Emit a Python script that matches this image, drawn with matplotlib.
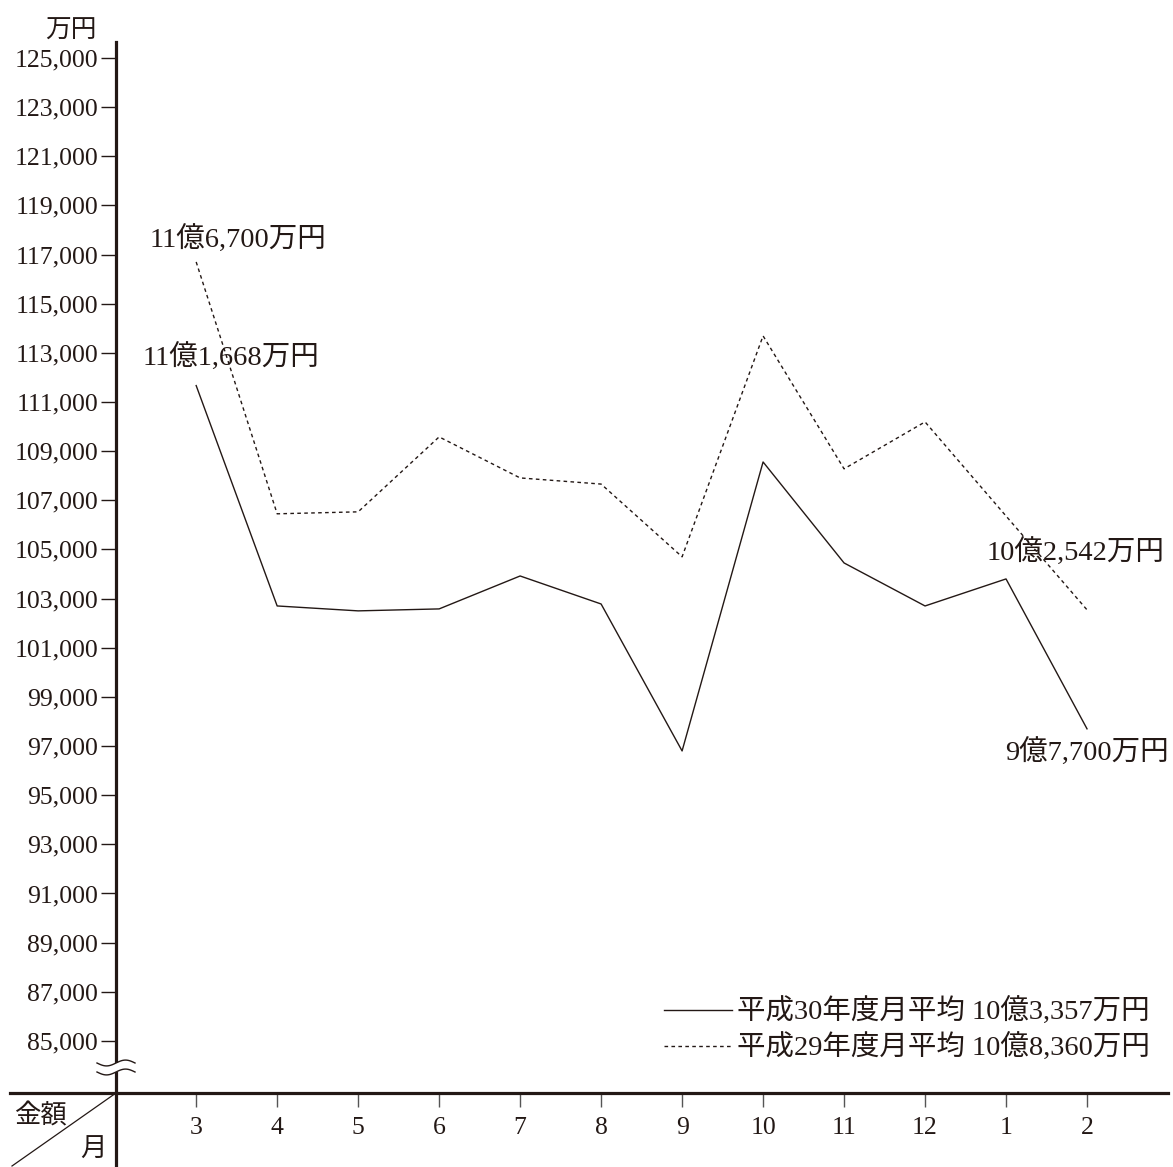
import numpy as np
import matplotlib
matplotlib.use("Agg")
import matplotlib.pyplot as plt
from matplotlib.lines import Line2D
from matplotlib.patches import Rectangle

plt.rcParams['font.family'] = ['Liberation Serif', 'Noto Sans CJK JP', 'DejaVu Sans']

# ---- data (万円) ----
months = ["3", "4", "5", "6", "7", "8", "9", "10", "11", "12", "1", "2"]
h30 = [111668, 102700, 102500, 102580, 103920, 102780,
       96800, 108560, 104450, 102700, 103800, 97700]
h29 = [116700, 106450, 106530, 109580, 107910, 107660,
       104700, 113690, 108280, 110190, 106360, 102542]
h30_label = "平成30年度月平均 10億3,357万円"
h29_label = "平成29年度月平均 10億8,360万円"
yticks = list(range(85000, 125001, 2000))

INK = "#231815"
W, H = 1173, 1167

fig = plt.figure(figsize=(W / 100, H / 100), dpi=100)


def fx(px):
    return px / W


def fy(py):
    return 1 - py / H


# axes box: y-axis at x=116, x-axis at y=1093, top at y=42
ax = fig.add_axes([fx(116), fy(1093), fx(1168) - fx(116), fy(42) - fy(1093)])
xs = np.arange(len(months))

ax.plot(xs, h30, color=INK, lw=1.0, label=h30_label)
ax.plot(xs, h29, color=INK, lw=1.0, linestyle=(0, (2.6, 2.4)), label=h29_label)

ax.set_xlim(-0.99, 12.0)
ax.set_ylim(82880, 125650)

for s in ax.spines.values():
    s.set_visible(False)

ax.set_yticks(yticks)
ax.set_yticklabels([f"{v:,}" for v in yticks])
ax.set_xticks(xs)
ax.set_xticklabels(months)
ax.tick_params(axis="y", direction="out", length=11, width=1.0, color=INK,
               labelsize=18.5, labelcolor=INK, pad=2)
ax.tick_params(axis="x", direction="out", length=10, width=1.0, color="#555555",
               labelsize=18.5, labelcolor=INK, pad=7)

# thick axis lines, extended past the corner
fig.add_artist(Line2D([fx(116), fx(116)], [fy(42), fy(1167)], color=INK, lw=2.3))
fig.add_artist(Line2D([fx(10), fx(1168)], [fy(1093), fy(1093)], color=INK, lw=2.3))
fig.add_artist(Line2D([fx(116), fx(12)], [fy(1093), fy(1166)], color=INK, lw=0.9))
fig.text(fx(40), fy(1116), "金額", fontsize=19, color=INK, ha="center", va="center")
fig.text(fx(93), fy(1150), "月", fontsize=19, color=INK, ha="center", va="center")

# axis break mark
fig.add_artist(Rectangle((fx(100), fy(1072)), fx(134) - fx(100), fy(1063) - fy(1072),
                         transform=fig.transFigure, facecolor="white",
                         edgecolor="none", zorder=5))
t = np.linspace(0, 1, 60)
wx = fx(97) + (fx(135) - fx(97)) * t
for base in (1063, 1072):
    wy = fy(base) + 0.0025 * np.sin(2 * np.pi * t + np.pi)
    fig.add_artist(Line2D(wx, wy, color=INK, lw=1.0, zorder=6))

# unit
fig.text(fx(97), fy(32), "万円", fontsize=18.5, color=INK, ha="right", va="center")

# value labels
ax.annotate("11億6,700万円", (xs[0], h29[0]), xytext=(30, 16),
            textcoords="offset points", ha="center", va="center",
            fontsize=20.5, color=INK)
ax.annotate("11億1,668万円", (xs[0], h30[0]), xytext=(25, 20),
            textcoords="offset points", ha="center", va="center",
            fontsize=20.5, color=INK)
ax.annotate("10億2,542万円", (xs[-1], h29[-1]), xytext=(-8, 41),
            textcoords="offset points", ha="center", va="center",
            fontsize=20.5, color=INK)
ax.annotate("9億7,700万円", (xs[-1], h30[-1]), xytext=(0, -17),
            textcoords="offset points", ha="center", va="center",
            fontsize=20.5, color=INK)

ax.legend(loc="lower right", bbox_to_anchor=(0.983, 0.03), frameon=False,
          fontsize=20.5, handlelength=2.4, handletextpad=0.18, labelspacing=0.25,
          borderpad=0, borderaxespad=0, labelcolor=INK)

fig.savefig("out.png", dpi=100)
